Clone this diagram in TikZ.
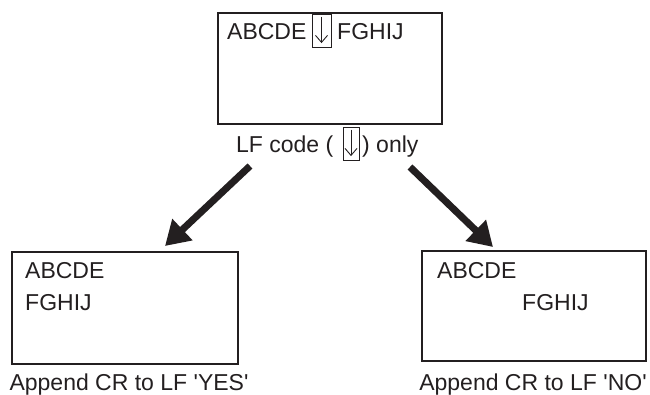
\documentclass[tikz,border=0pt]{standalone}
\usepackage{fontspec}
\setmainfont{Liberation Sans}
\usetikzlibrary{arrows.meta,calc}
\definecolor{ink}{HTML}{231F20}
\newcommand\fsz{\fontsize{23}{27}\selectfont}
\newcommand\qt{\textquotesingle}
\begin{document}
\begin{tikzpicture}[x=1pt,y=-1pt,
  frame/.style={draw=ink, line width=2.3pt, inner sep=0pt, anchor=north west},
  txt/.style={inner sep=0pt, anchor=base west, font=\fsz, text=ink},
  lab/.style={inner sep=0pt, anchor=base, font=\fsz, text=ink},
  lfbox/.style={draw=ink, line width=0.8pt, inner sep=0pt},
  lfarrow/.style={draw=ink, line width=0.9pt},
  bigarrow/.style={draw=ink, line width=7pt, -{Triangle[length=24pt,width=28pt]}}]
\useasboundingbox (0,0) rectangle (650,395);
% top box
\node[frame, minimum width=224pt, minimum height=111pt] (top) at (217,12) {};
\node[txt] (t1) at (227,40) {ABCDE};
\node[lfbox, minimum width=19pt, minimum height=33pt] (lf1) at (321.5,30.5) {};
\node[txt] (t2) at (337,40) {FGHIJ};
\draw[lfarrow] ($(lf1.north)+(0,3)$) -- ($(lf1.south)+(0,-5)$);
\draw[lfarrow] ($(lf1.south)+(-6,-12)$) -- ($(lf1.south)+(0,-5)$) -- ($(lf1.south)+(6,-12)$);
% label
\node[txt] (l1) at (236,153) {LF code (};
\node[lfbox, minimum width=16pt, minimum height=33pt] (lf2) at (351,143.5) {};
\node[txt] (l2) at (362,153) {) only};
\draw[lfarrow] ($(lf2.north)+(0,3)$) -- ($(lf2.south)+(0,-5)$);
\draw[lfarrow] ($(lf2.south)+(-6,-12)$) -- ($(lf2.south)+(0,-5)$) -- ($(lf2.south)+(6,-12)$);
% bottom left
\node[frame, minimum width=226pt, minimum height=112pt] (lb) at (11,251) {};
\node[txt] (lb1) at (25,278) {ABCDE};
\node[txt] (lb2) at (25,310) {FGHIJ};
\node[lab] (lbl) at (129,390) {Append CR to LF \qt YES\qt};
% bottom right
\node[frame, minimum width=224pt, minimum height=110pt] (rb) at (421,250) {};
\node[txt] (rb1) at (437,278) {ABCDE};
\node[txt] (rb2) at (522,310) {FGHIJ};
\node[lab] (rbl) at (533,390) {Append CR to LF \qt NO\qt};
% arrows
\coordinate (s1) at (250,166);
\coordinate (e1) at (165,246);
\coordinate (s2) at (410,167);
\coordinate (e2) at (493,247);
\draw[bigarrow] (s1) -- (e1);
\draw[bigarrow] (s2) -- (e2);
\end{tikzpicture}
\end{document}
